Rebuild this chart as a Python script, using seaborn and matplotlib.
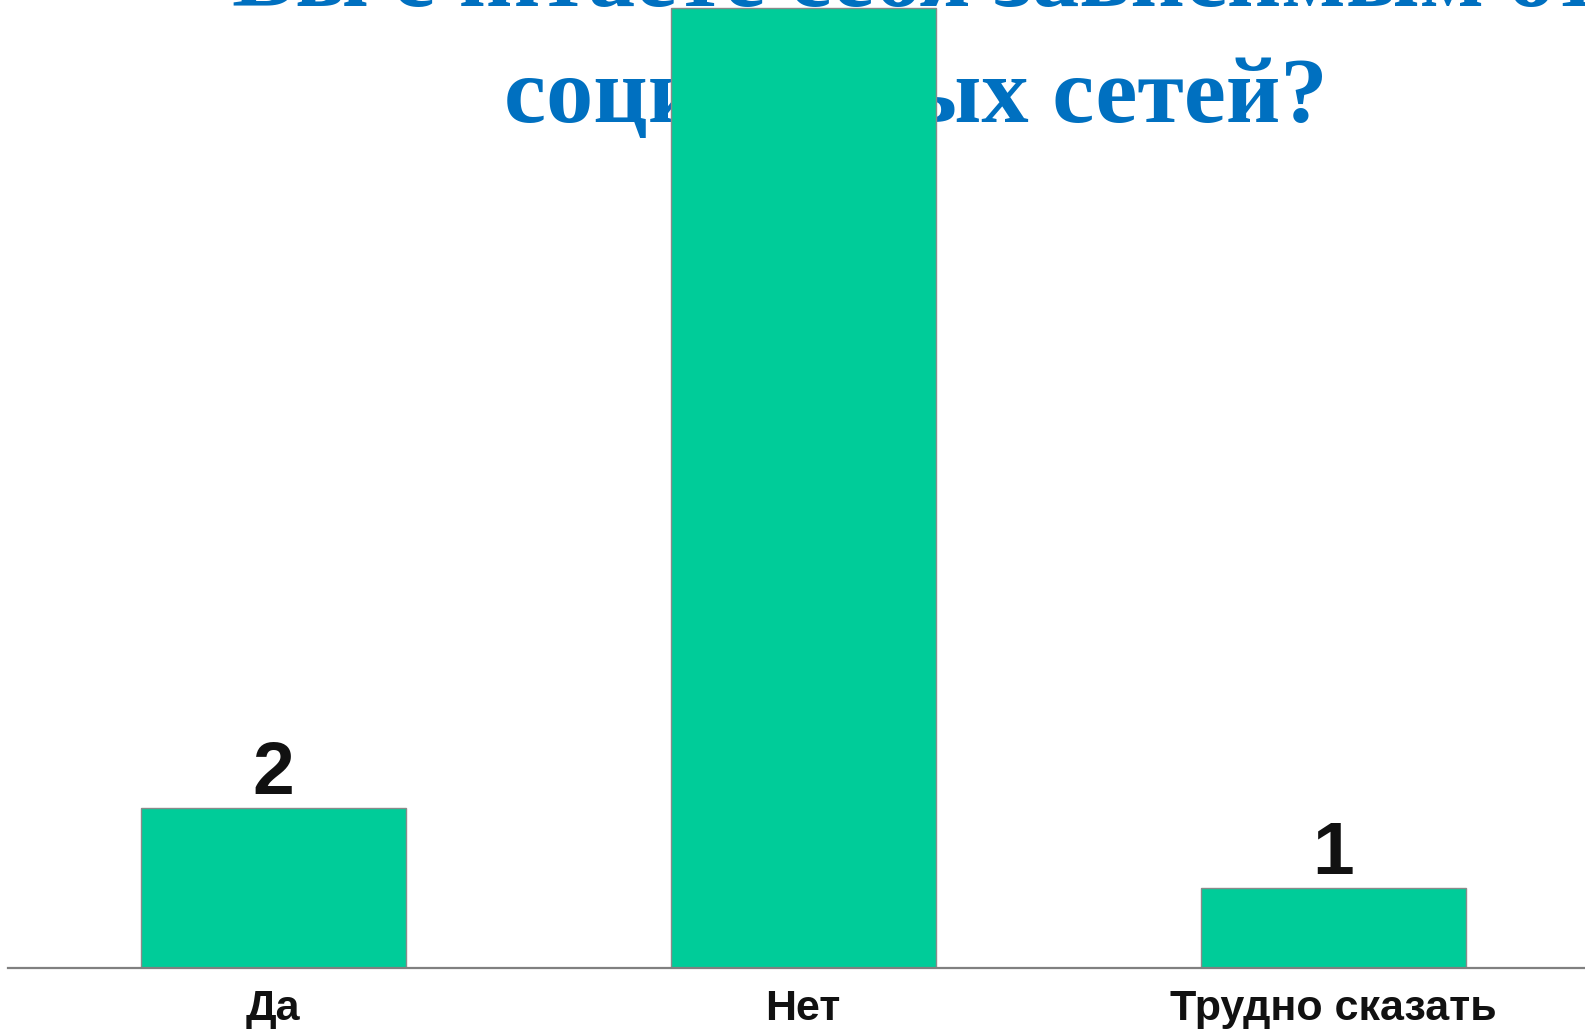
import matplotlib
matplotlib.use("Agg")
import matplotlib.pyplot as plt
import seaborn as sns
import pandas as pd

categories = ["Да", "Нет", "Трудно сказать"]
counts = [2, 12, 1]
title_lines = ["Вы считаете себя зависимым от", "социальных сетей?"]

df = pd.DataFrame({"answer": categories, "count": counts})

sns.set_style("white")
plt.rcParams["font.family"] = ["Liberation Sans", "DejaVu Sans"]

fig = plt.figure(figsize=(15.85, 10.32), dpi=100)
W, H = 1585, 1032
ax = fig.add_axes([8 / W, (H - 968) / H, 1590 / W, 968 / H])
ax.patch.set_alpha(0)

sns.barplot(data=df, x="answer", y="count", color="#00CC99", saturation=1,
            width=0.5, edgecolor="#8a8a8a", linewidth=1, ax=ax)

ax.set_xlim(-0.5, 2.5)
ax.set_ylim(0, 12.1)
ax.set_xlabel("")
ax.set_ylabel("")
ax.set_yticks([])
sns.despine(ax=ax, left=True)
ax.spines["bottom"].set_color("#808080")
ax.spines["bottom"].set_linewidth(1.6)
ax.tick_params(axis="x", length=0, pad=15, labelsize=31, labelcolor="#111111")
for lbl in ax.get_xticklabels():
    lbl.set_fontweight("bold")

# the label of the tallest bar falls above the picture, so it is not shown
labels = [str(v) if v < 11 else "" for v in counts]
ax.bar_label(ax.containers[0], labels=labels, fontsize=54, fontweight="bold",
             color="#111111", padding=-1)

# title sits behind the bars
for txt, yb in zip(title_lines, [6, 122]):
    ax.text(916 / W, 1 - yb / H, txt, transform=fig.transFigure, ha="center", va="baseline",
            fontsize=68, fontweight="bold", color="#0070C0",
            family=["Liberation Serif", "DejaVu Serif"], zorder=0.5)

fig.savefig("out.png", dpi=100)
